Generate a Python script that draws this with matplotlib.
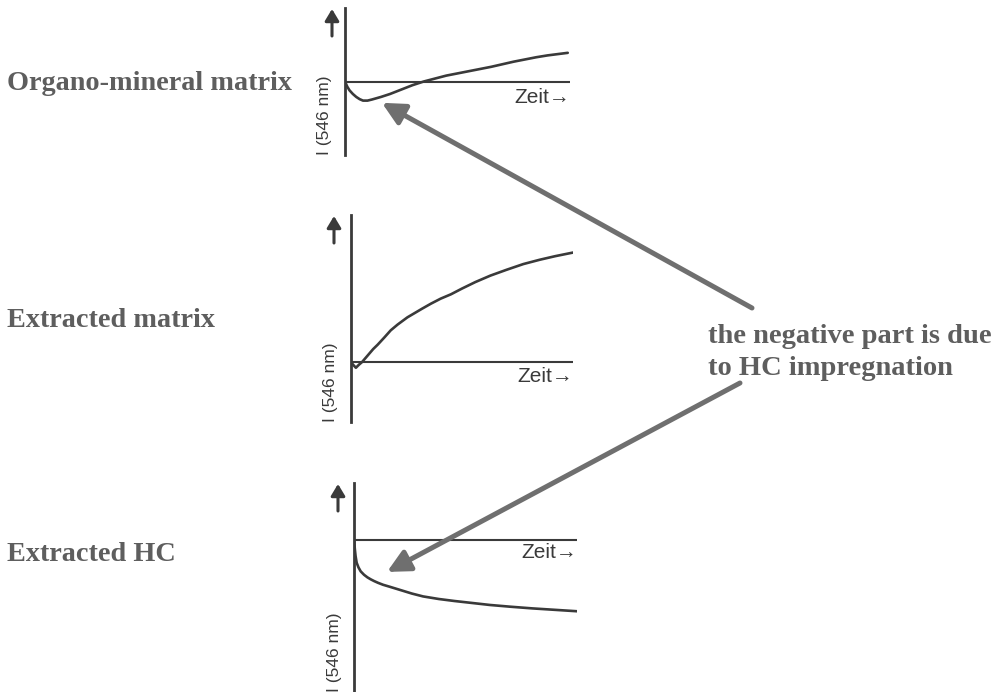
import matplotlib
matplotlib.use("Agg")
import matplotlib.pyplot as plt
from matplotlib import font_manager
from matplotlib.transforms import offset_copy

# ---------------- data ----------------
panel_titles = ["Organo-mineral matrix", "Extracted matrix", "Extracted HC"]
axis_label = "I (546 nm)"
time_label = "Zeit\u2192"
note_lines = ["the negative part is due", "to HC impregnation"]

time_organo = [0, 0.1, 0.2, 0.35, 0.5, 0.65, 0.8, 1.0, 1.2, 1.6, 2.0, 2.5, 3.0, 3.5,
               4.0, 4.5, 5.0, 5.5, 6.0, 6.5, 7.0, 7.5, 8.0, 8.5, 9.0, 9.9]
signal_organo = [0, -0.07, -0.12, -0.17, -0.21, -0.24, -0.26, -0.26, -0.245, -0.21,
                 -0.17, -0.11, -0.05, 0.0, 0.04, 0.08, 0.11, 0.14, 0.17, 0.20,
                 0.235, 0.27, 0.30, 0.33, 0.355, 0.39]

time_extracted = [0, 0.1, 0.22, 0.35, 0.5, 0.75, 1.0, 1.2, 1.5, 1.79, 2.1, 2.54, 3.2,
                  3.6, 4.04, 4.5, 5.0, 5.6, 6.28, 7.0, 7.76, 8.5, 9.2, 10.0]
signal_extracted = [0, -0.02, -0.04, -0.02, 0.0, 0.045, 0.09, 0.12, 0.17, 0.22, 0.26,
                    0.31, 0.37, 0.405, 0.44, 0.47, 0.51, 0.555, 0.60, 0.64, 0.68,
                    0.71, 0.735, 0.76]

time_hc = [0, 0.02, 0.04, 0.07, 0.12, 0.2, 0.3, 0.45, 0.6, 0.75, 0.9, 1.07, 1.3, 1.6,
           2.1, 2.6, 3.1, 3.8, 4.5, 5.3, 6.1, 7.0, 8.0, 9.0, 10.0]
signal_hc = [0, -0.08, -0.17, -0.28, -0.40, -0.48, -0.55, -0.61, -0.655, -0.69, -0.72,
             -0.75, -0.785, -0.82, -0.88, -0.94, -0.99, -1.035, -1.07, -1.105, -1.14,
             -1.17, -1.20, -1.225, -1.25]

# ---------------- layout / style ----------------
W, H = 1008, 692
fig = plt.figure(figsize=(W / 100, H / 100), dpi=100)
fig.patch.set_facecolor("white")

names = {f.name for f in font_manager.fontManager.ttflist}
narrow = "Liberation Sans Narrow" if "Liberation Sans Narrow" in names else "Liberation Sans"

line_col = "#3a3a3a"
text_col = "#5e5e5e"
arrow_col = "#6f6f6f"

# panel boxes in pixels: left, right, top, bottom, baseline, pixels per unit
panels = [
    dict(l=345, r=570, t=8, b=155, base=81.5, unit=73.5,
         x=time_organo, y=signal_organo, title_base=90, arrow_dx=-13, zeit_dy=-16),
    dict(l=351, r=573, t=215, b=422, base=362, unit=144,
         x=time_extracted, y=signal_extracted, title_base=327, arrow_dx=-17, zeit_dy=-15),
    dict(l=354, r=577, t=483, b=692, base=540, unit=57,
         x=time_hc, y=signal_hc, title_base=561, arrow_dx=-16, zeit_dy=-13),
]

axes = []
for p, title in zip(panels, panel_titles):
    ax = fig.add_axes([p["l"] / W, 1 - p["b"] / H, (p["r"] - p["l"]) / W, (p["b"] - p["t"]) / H])
    ax.set_xlim(0, 10)
    ax.set_ylim(-(p["b"] - p["base"]) / p["unit"], (p["base"] - p["t"]) / p["unit"])
    for s in ["top", "right", "bottom"]:
        ax.spines[s].set_visible(False)
    ax.spines["left"].set_color(line_col)
    ax.spines["left"].set_linewidth(2.0)
    ax.set_xticks([])
    ax.set_yticks([])
    ax.patch.set_alpha(0)
    ax.axhline(0, color=line_col, lw=1.5)
    ax.plot(p["x"], p["y"], color=line_col, lw=1.9, solid_capstyle="round",
            solid_joinstyle="round")

    # up arrow beside the axis
    tr = offset_copy(ax.transAxes, fig=fig, x=p["arrow_dx"], y=0, units="dots")
    hpx = p["b"] - p["t"]
    ax.annotate("", xy=(0, 1 - 1 / hpx), xycoords=tr,
                xytext=(0, 1 - 28 / hpx), textcoords=tr,
                arrowprops=dict(arrowstyle="-|>,head_length=0.5,head_width=0.3",
                                color=line_col, lw=2.2,
                                mutation_scale=14, shrinkA=0, shrinkB=0))
    # intensity label
    trl = offset_copy(ax.transAxes, fig=fig, x=-20, y=0, units="dots")
    ax.text(0, 0, axis_label, transform=trl, rotation=90, ha="center", va="bottom",
            fontsize=12.5, family=[narrow, "DejaVu Sans"], color=line_col)
    # time label
    ax.annotate(time_label, xy=(10, 0), xytext=(0, p["zeit_dy"]), textcoords="offset pixels",
                ha="right", va="center", fontsize=15,
                family=["Liberation Sans", "DejaVu Sans"], color=line_col)
    # left title
    fig.text(7 / W, 1 - p["title_base"] / H, title, ha="left", va="baseline",
             fontsize=20.3, fontweight="bold", family=["Liberation Serif", "DejaVu Serif"],
             color=text_col)
    axes.append(ax)

# note text
note_bases = [343, 375]
for line, yb in zip(note_lines, note_bases):
    fig.text(708 / W, 1 - yb / H, line, ha="left", va="baseline", fontsize=20.5,
             fontweight="bold", family=["Liberation Serif", "DejaVu Serif"], color=text_col)

# big pointer arrows from the note to the negative parts
big = dict(arrowstyle="-|>,head_length=0.9,head_width=0.45", color=arrow_col, lw=3.6,
           mutation_scale=15, shrinkA=0, shrinkB=0)
axes[0].annotate("", xy=(1.64, -0.29), xycoords="data",
                 xytext=(752 / W, 1 - 308 / H), textcoords="figure fraction",
                 arrowprops=big)
axes[2].annotate("", xy=(1.48, -0.56), xycoords="data",
                 xytext=(740 / W, 1 - 383 / H), textcoords="figure fraction",
                 arrowprops=big)

fig.savefig("out.png", dpi=100, facecolor="white")
